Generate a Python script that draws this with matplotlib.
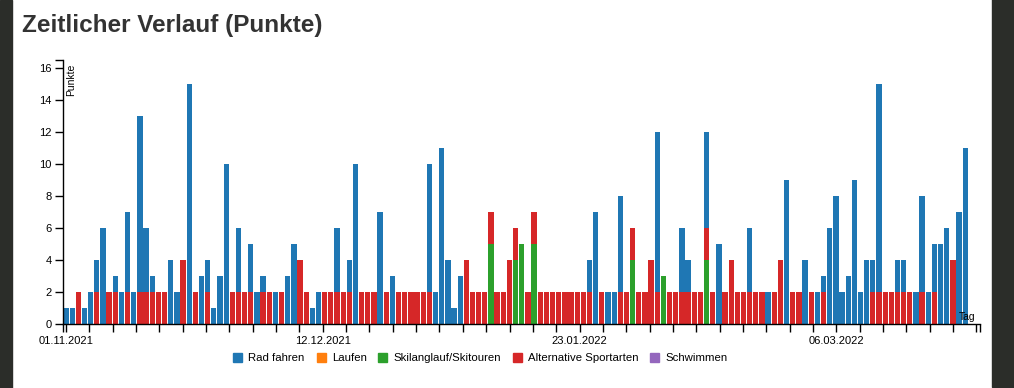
import numpy as np
import matplotlib
matplotlib.use("Agg")
import matplotlib.pyplot as plt
from matplotlib.patches import Rectangle

plt.rcParams['font.family'] = ['Liberation Sans', 'DejaVu Sans']

# ---------------- data ----------------
categories = ["Rad fahren", "Laufen", "Skilanglauf/Skitouren", "Alternative Sportarten", "Schwimmen"]
colors = {"Rad fahren": "#1f77b4", "Laufen": "#ff7f0e", "Skilanglauf/Skitouren": "#2ca02c",
          "Alternative Sportarten": "#d62728", "Schwimmen": "#9467bd"}

# one value per day starting 01.11.2021
rad = [
    1, 1, 0, 1, 2, 2, 6, 0, 1, 2,
    5, 2, 11, 4, 1, 0, 0, 4, 2, 0,
    15, 0, 3, 2, 1, 3, 10, 0, 4, 0,
    3, 2, 1, 0, 2, 0, 3, 5, 0, 0,
    1, 2, 0, 0, 4, 0, 2, 10, 0, 0,
    0, 7, 0, 3, 0, 0, 0, 0, 0, 8,
    2, 11, 4, 1, 3, 0, 0, 0, 0, 0,
    0, 0, 0, 0, 0, 0, 0, 0, 0, 0,
    0, 0, 0, 0, 0, 2, 7, 0, 2, 2,
    6, 0, 0, 0, 0, 0, 10, 0, 0, 0,
    4, 2, 0, 0, 6, 0, 5, 0, 0, 0,
    0, 4, 0, 0, 2, 0, 0, 9, 0, 0,
    4, 0, 2, 1, 6, 8, 2, 3, 9, 2,
    4, 2, 13, 0, 0, 2, 2, 0, 2, 6,
    2, 3, 5, 6, 0, 7, 11]

alt = [
    0, 0, 2, 0, 0, 2, 0, 2, 2, 0,
    2, 0, 2, 2, 2, 2, 2, 0, 0, 4,
    0, 2, 0, 2, 0, 0, 0, 2, 2, 2,
    2, 0, 2, 2, 0, 2, 0, 0, 4, 2,
    0, 0, 2, 2, 2, 2, 2, 0, 2, 2,
    2, 0, 2, 0, 2, 2, 2, 2, 2, 2,
    0, 0, 0, 0, 0, 4, 2, 2, 2, 2,
    2, 2, 4, 2, 0, 2, 2, 2, 2, 2,
    2, 2, 2, 2, 2, 2, 0, 2, 0, 0,
    2, 2, 2, 2, 2, 4, 2, 0, 2, 2,
    2, 2, 2, 2, 2, 2, 0, 2, 4, 2,
    2, 2, 2, 2, 0, 2, 4, 0, 2, 2,
    0, 2, 0, 2, 0, 0, 0, 0, 0, 0,
    0, 2, 2, 2, 2, 2, 2, 2, 0, 2,
    0, 2, 0, 0, 4, 0, 0]

ski = [
    0, 0, 0, 0, 0, 0, 0, 0, 0, 0,
    0, 0, 0, 0, 0, 0, 0, 0, 0, 0,
    0, 0, 0, 0, 0, 0, 0, 0, 0, 0,
    0, 0, 0, 0, 0, 0, 0, 0, 0, 0,
    0, 0, 0, 0, 0, 0, 0, 0, 0, 0,
    0, 0, 0, 0, 0, 0, 0, 0, 0, 0,
    0, 0, 0, 0, 0, 0, 0, 0, 0, 5,
    0, 0, 0, 4, 5, 0, 5, 0, 0, 0,
    0, 0, 0, 0, 0, 0, 0, 0, 0, 0,
    0, 0, 4, 0, 0, 0, 0, 3, 0, 0,
    0, 0, 0, 0, 4, 0, 0, 0, 0, 0,
    0, 0, 0, 0, 0, 0, 0, 0, 0, 0,
    0, 0, 0, 0, 0, 0, 0, 0, 0, 0,
    0, 0, 0, 0, 0, 0, 0, 0, 0, 0,
    0, 0, 0, 0, 0, 0, 0]

tick_labels = ["01.11.2021", "12.12.2021", "23.01.2022", "06.03.2022"]
label_tick_index = [0, 11, 22, 33]

# ---------------- figure ----------------
W, H = 1014, 388
fig = plt.figure(figsize=(W / 100, H / 100), dpi=100)
fig.patch.set_facecolor("white")

dark = "#2b2d29"
fig.patches.append(Rectangle((0, 0), 12 / W, 1, transform=fig.transFigure, color=dark, zorder=-5))
fig.patches.append(Rectangle((992 / W, 1 / H), 22 / W, 1, transform=fig.transFigure, color=dark, zorder=-5))

x0, x1, yb, yt = 63, 980, 324, 59.5
ax = fig.add_axes([x0 / W, (H - yb) / H, (x1 - x0) / W, (yb - yt) / H])

x = np.arange(len(rad))
ski_a = np.array(ski)
alt_a = np.array(alt)
rad_a = np.array(rad)
bw = 0.86
ax.bar(x, ski_a, width=bw, color=colors["Skilanglauf/Skitouren"], linewidth=0)
ax.bar(x, alt_a, bottom=ski_a, width=bw, color=colors["Alternative Sportarten"], linewidth=0)
ax.bar(x, rad_a, bottom=ski_a + alt_a, width=bw, color=colors["Rad fahren"], linewidth=0)

xmin, xmax = -0.49, 148.4
ymax = 16.53
ax.set_xlim(xmin, xmax)
ax.set_ylim(0, ymax)

for s in ["top", "right"]:
    ax.spines[s].set_visible(False)
for s in ["left", "bottom"]:
    ax.spines[s].set_linewidth(1)
    ax.spines[s].set_color("black")

step = 3.79
xt = [k * step for k in range(40)]
xl = [""] * len(xt)
for lab, k in zip(tick_labels, label_tick_index):
    xl[k] = lab
xt_all = [xmin] + xt + [xmax]
xl_all = [""] + xl + [""]
ax.set_xticks(xt_all)
ax.set_xticklabels(xl_all)
yt_vals = list(range(0, 17, 2)) + [ymax]
ax.set_yticks(yt_vals)
ax.set_yticklabels([str(v) for v in range(0, 17, 2)] + [""])
ax.tick_params(axis="both", length=6, width=1, labelsize=8, pad=2, colors="black")
ax.tick_params(axis="x", pad=3)

fig.text(71.5 / W, 1 - 64 / H, "Punkte", rotation=90, ha="center", va="top", fontsize=7.5)
fig.text(975 / W, 1 - 320 / H, "Tag", ha="right", va="baseline", fontsize=7.5)

fig.text(22 / W, 1 - 32 / H, "Zeitlicher Verlauf (Punkte)", fontsize=17.5, fontweight="bold",
         color="#333333", va="baseline", ha="left")

handles = [Rectangle((0, 0), 1, 1, color=colors[c]) for c in categories]
fig.legend(handles, categories, loc="center", bbox_to_anchor=(480.5 / W, 1 - 358 / H), ncol=5,
           frameon=False, fontsize=8.2, handlelength=0.79, handleheight=0.84, handletextpad=0.53,
           columnspacing=1.05, borderpad=0, borderaxespad=0)

fig.savefig("out.png", dpi=100, facecolor="white")
